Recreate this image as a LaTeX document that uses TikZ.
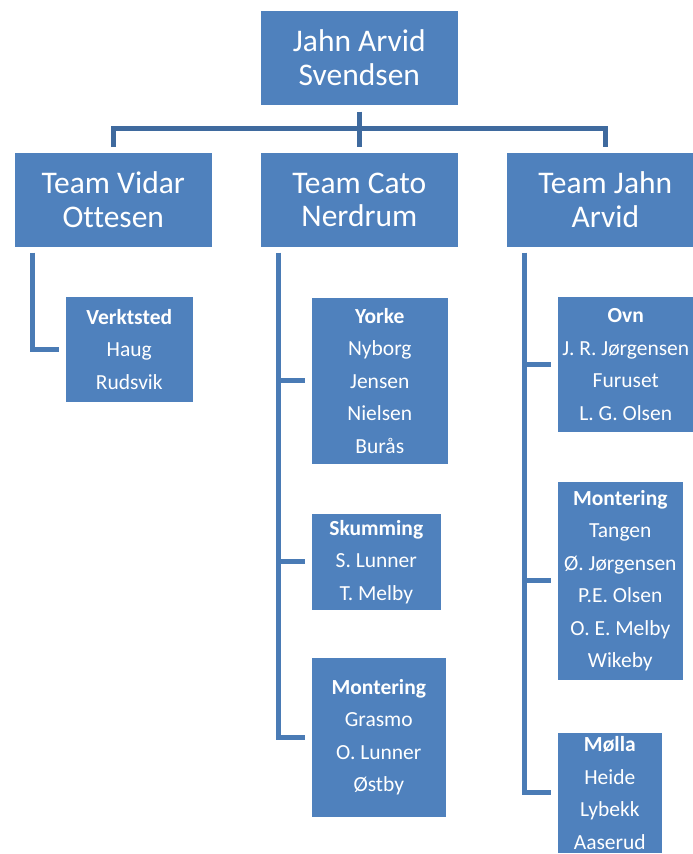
\documentclass[tikz,border=0pt]{standalone}
\usepackage{fontspec}
\setmainfont{Carlito}[Ligatures=NoCommon]
\definecolor{boxBlue}{HTML}{4F81BD}
\definecolor{lineBlue}{HTML}{4A7BB5}
\definecolor{barBlue}{HTML}{3F6A9E}
\newcommand{\teamFont}{\fontsize{31.5}{33.5}\selectfont}
\newcommand{\crewFont}{\fontsize{21.5}{32.5}\selectfont}
\newcommand{\lineWidth}{5pt}

\begin{document}
\begin{tikzpicture}[x=1pt, y=-1pt,
  box/.style={fill=boxBlue, draw=white, line width=0.6pt, text=white, inner sep=0pt, anchor=north west, align=center},
  team/.style={box, minimum width=198pt, minimum height=95pt, font=\teamFont},
  crew/.style={box, font=\crewFont},
  conn/.style={draw=lineBlue, line width=\lineWidth},
  bar/.style={conn, draw=barBlue}]
\useasboundingbox (0,0) rectangle (693,854);

% top and teams
\node (root) [team] at (260,10) {Jahn Arvid\\Svendsen};
\node (vidar) [team] at (14,152) {Team Vidar\\Ottesen};
\node (cato) [team] at (260,152) {Team Cato\\Nerdrum};
\node (jahn) [team] at (506,152) {Team Jahn\\Arvid};

% crews
\node (verk) [crew, minimum width=128pt, minimum height=106pt] at (65,296) {\textbf{Verktsted}\\Haug\\Rudsvik};
\node (yorke) [crew, minimum width=137pt, minimum height=167pt] at (311,297) {\textbf{Yorke}\\Nyborg\\Jensen\\Nielsen\\Burås};
\node (skum) [crew, minimum width=130pt, minimum height=97pt] at (311,513) {\textbf{Skumming}\\S. Lunner\\T. Melby};
\node (montC) [crew, minimum width=135pt, minimum height=160pt] at (311,657) {\textbf{Montering}\\Grasmo\\O. Lunner\\Østby};
\node (ovn) [crew, minimum width=137pt, minimum height=136pt] at (557,296) {\textbf{Ovn}\\J. R. Jørgensen\\Furuset\\L. G. Olsen};
\node (montJ) [crew, minimum width=126pt, minimum height=199pt] at (557,481) {\textbf{Montering}\\Tangen\\Ø. Jørgensen\\P.E. Olsen\\O. E. Melby\\Wikeby};
\node (molla) [crew, minimum width=105pt, minimum height=121pt] at (557,732) {\textbf{Mølla}\\Heide\\Lybekk\\Aaserud};

% top connectors
\coordinate (bar) at ([yshift=-23pt]root.south);
\draw[bar] ([yshift=-6pt]root.south) -- ([yshift=5pt]cato.north);
\draw[bar] ([yshift=5pt]vidar.north) |- (bar) -| ([yshift=5pt]jahn.north);

% team connectors
\coordinate (vidarSpine) at ([xshift=18pt, yshift=-5pt]vidar.south west);
\coordinate (catoSpine) at ([xshift=18pt, yshift=-5pt]cato.south west);
\coordinate (jahnSpine) at ([xshift=18pt, yshift=-5pt]jahn.south west);
\draw[conn] (vidarSpine) |- ([xshift=-6pt]verk.west);
\draw[conn] (catoSpine) |- ([xshift=-6pt]montC.west);
\draw[conn] (yorke.west -| catoSpine) -- ([xshift=-6pt]yorke.west);
\draw[conn] (skum.west -| catoSpine) -- ([xshift=-6pt]skum.west);
\draw[conn] (jahnSpine) |- ([xshift=-6pt]molla.west);
\draw[conn] (ovn.west -| jahnSpine) -- ([xshift=-6pt]ovn.west);
\draw[conn] (montJ.west -| jahnSpine) -- ([xshift=-6pt]montJ.west);
\end{tikzpicture}
\end{document}
